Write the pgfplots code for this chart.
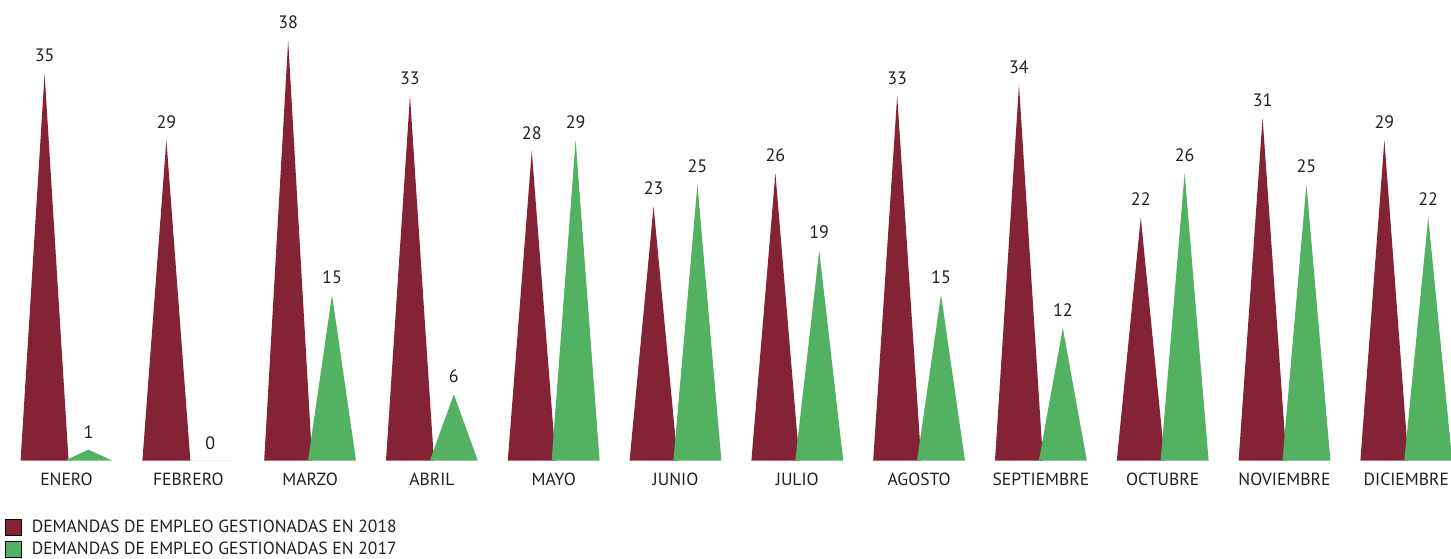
\documentclass[border=0pt]{standalone}
\usepackage{fontspec}
\setmainfont{PT Sans}
\usepackage{pgfplots}
\usepackage{pgfplotstable}
\pgfplotsset{compat=1.18}
\definecolor{cmaroon}{RGB}{132,34,54}
\definecolor{cgreen}{RGB}{82,178,98}
\definecolor{ctext}{RGB}{35,31,32}

\pgfplotstableread{
x a b
0 35 1
1 29 0
2 38 15
3 33 6
4 28 29
5 23 25
6 26 19
7 33 15
8 34 12
9 22 26
10 31 25
11 29 22
}\datatable

\begin{document}
\begin{tikzpicture}[x=1pt,y=1pt]
\path[use as bounding box] (0,0) rectangle (725.5,279);
\begin{axis}[
  at={(0pt,48.65pt)}, anchor=south west,
  scale only axis, width=725.5pt, height=230.35pt,
  xmin=-0.546, xmax=11.367, ymin=0, ymax=41.65,
  clip=false,
  axis line style={draw=none},
  tick style={draw=none}, major tick length=0pt,
  ytick=\empty,
  xtick={0,...,11},
  xticklabels={ENERO,FEBRERO,MARZO,ABRIL,MAYO,JUNIO,JULIO,AGOSTO,SEPTIEMBRE,OCTUBRE,NOVIEMBRE,DICIEMBRE},
  xticklabel style={anchor=north, inner sep=0pt, yshift=-6pt, font=\fontsize{8.8}{11}\selectfont, text=ctext},
  /pgf/number format/assume math mode=true,
  nodes near coords style={anchor=south, inner sep=0pt, yshift=5.5pt, font=\fontsize{9}{11}\selectfont, text=ctext},
  legend style={at={(0,0)}, anchor=north west, xshift=2.5pt, yshift=-29.15pt, draw=none, fill=none, inner sep=0pt,
    font=\fontsize{8.8}{11}\selectfont, text=ctext, row sep=2.4pt,
    nodes={inner sep=0pt},
    /tikz/every odd column/.append style={column sep=4.8pt}},
  legend cell align=left,
  legend image code/.code={\fill[#1] (0pt,-4pt) rectangle (8pt,4pt);},
]
\pgfplotsinvokeforeach{0,...,11}{
  \pgfplotstablegetelem{#1}{a}\of\datatable
  \let\va\pgfplotsretval
  \pgfmathsetmacro{\xl}{#1-0.377}
  \pgfmathsetmacro{\xc}{#1-0.18}
  \pgfmathsetmacro{\xr}{#1+0.017}
  \edef\temp{\noexpand\addplot[fill=cmaroon, draw=none, forget plot] coordinates {(\xl,0) (\xc,\va) (\xr,0)};}
  \temp
}
\pgfplotsinvokeforeach{0,...,11}{
  \pgfplotstablegetelem{#1}{b}\of\datatable
  \let\vb\pgfplotsretval
  \pgfmathsetmacro{\xl}{#1-0.017}
  \pgfmathsetmacro{\xc}{#1+0.18}
  \pgfmathsetmacro{\xr}{#1+0.377}
  \edef\temp{\noexpand\addplot[fill=cgreen, draw=none, forget plot] coordinates {(\xl,0) (\xc,\vb) (\xr,0)};}
  \temp
}
\addplot[draw=none, mark=none, nodes near coords, forget plot] table[x expr=\thisrow{x}-0.18, y=a] {\datatable};
\addplot[draw=none, mark=none, nodes near coords, forget plot] table[x expr=\thisrow{x}+0.18, y=b] {\datatable};
\addlegendimage{fill=cmaroon}
\addlegendentry{DEMANDAS DE EMPLEO GESTIONADAS EN 2018}
\addlegendimage{fill=cgreen}
\addlegendentry{DEMANDAS DE EMPLEO GESTIONADAS EN 2017}
\end{axis}
\end{tikzpicture}
\end{document}
